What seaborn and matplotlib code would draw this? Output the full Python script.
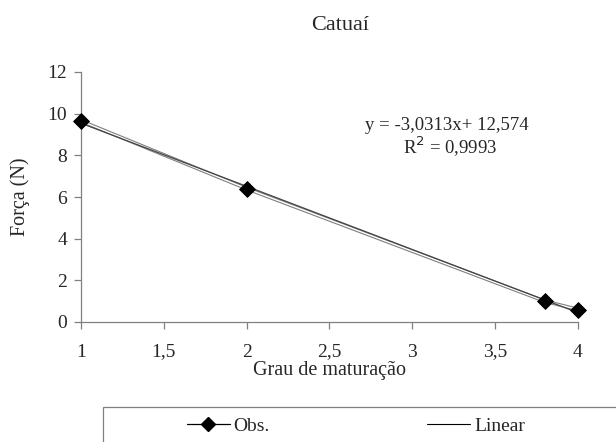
import numpy as np
import pandas as pd
import seaborn as sns
import matplotlib.pyplot as plt
from matplotlib.patches import Rectangle

# observed data
grau = [1, 2, 3.8, 4]
forca = [9.65, 6.4, 1.0, 0.6]

# linear trend line (as printed on the chart)
slope = -3.0313
intercept = 12.574
r2 = 0.9993
trend_x = [1, 4]

xticks = [1, 1.5, 2, 2.5, 3, 3.5, 4]
xtick_labels = ['1', '1,5', '2', '2,5', '3', '3,5', '4']

sns.set_theme(style="white")
plt.rcParams['font.family'] = ['Liberation Serif', 'DejaVu Serif']

obs = pd.DataFrame({'x': grau, 'y': forca})
lin = pd.DataFrame({'x': trend_x, 'y': [slope * v + intercept for v in trend_x]})

fig = plt.figure(figsize=(6.16, 4.42), dpi=100)
ax = fig.add_axes([81 / 616, 1 - 322 / 442, 497 / 616, 250 / 442])

# observed series: double line (gray with white core)
sns.lineplot(data=obs, x='x', y='y', ax=ax, color='#7f7f7f', lw=2.6, zorder=2, legend=False)
sns.lineplot(data=obs, x='x', y='y', ax=ax, color='white', lw=1.0, zorder=3, legend=False)
sns.lineplot(data=lin, x='x', y='y', ax=ax, color='#444444', lw=0.9, zorder=4, legend=False)
sns.scatterplot(data=obs, x='x', y='y', ax=ax, marker='D', s=65, color='black',
                edgecolor='black', zorder=5, legend=False, clip_on=False)

ax.set_xlim(1, 4)
ax.set_ylim(0, 12)
ax.set_xticks(xticks)
ax.set_xticklabels(xtick_labels)
ax.set_yticks(range(0, 13, 2))
for s in ['top', 'right']:
    ax.spines[s].set_visible(False)
for s in ['left', 'bottom']:
    ax.spines[s].set_color('#808080')
    ax.spines[s].set_linewidth(0.9)
ax.tick_params(axis='both', which='both', direction='out', length=5, width=0.9,
               color='#808080', labelsize=14, bottom=True, left=True)
ax.tick_params(axis='x', pad=10.5)
ax.tick_params(axis='y', pad=5)
ax.set_xlabel('Grau de maturação', fontsize=14.5, labelpad=0.5)
ax.set_ylabel('Força (N)', fontsize=14.5)
ax.yaxis.set_label_coords(-0.103, 0.5)

fig.text(340 / 616, 1 - 25 / 442, 'Catuaí', ha='center', va='center', fontsize=16)
ax.text(3.21, 9.45, f'y = {slope:.4f}x+ {intercept:.3f}'.replace('.', ','),
        ha='center', va='center', fontsize=13.5)
ax.text(3.23, 8.4, f'R$^2$ = {r2:.4f}'.replace('.', ','),
        ha='center', va='center', fontsize=13.5)

# legend box at the bottom (runs off the figure edge)
fig.patches.append(Rectangle((103 / 616, -0.05), 0.9, 0.05 + 1 - 407 / 442,
                             transform=fig.transFigure, fill=False,
                             edgecolor='#808080', lw=0.9))
h_obs = plt.Line2D([], [], color='black', lw=0.9, marker='D', markersize=7)
h_lin = plt.Line2D([], [], color='black', lw=0.8)
fig.legend([h_obs, h_lin], ['Obs.', 'Linear'], ncol=2, loc='center left',
           bbox_to_anchor=(187 / 616, 1 - 426 / 442), frameon=False, fontsize=14,
           handlelength=2.2, handletextpad=0.2, columnspacing=8.1,
           borderaxespad=0, borderpad=0)

fig.savefig('out.png', dpi=100)
